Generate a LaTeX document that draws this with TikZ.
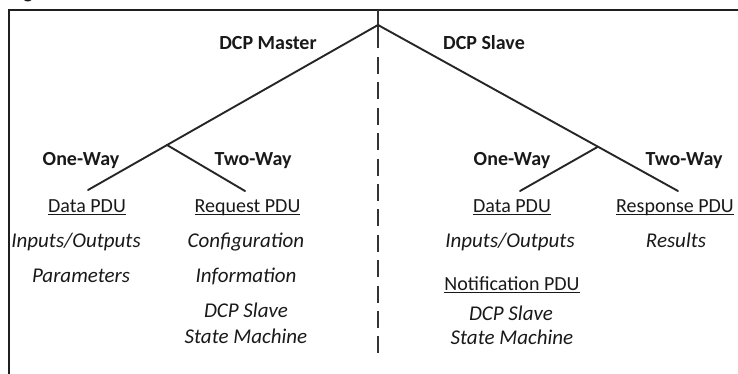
\documentclass[tikz,border=0pt]{standalone}
\usepackage{fontspec}
\setmainfont{Carlito}
\newcommand\dsize{\fontsize{20}{24}\selectfont}
\newcommand\isize{\fontsize{21}{25}\selectfont}
% underline set at a fixed depth, crossing descenders
\newcommand\pduline[1]{\setbox0\hbox{#1}\rlap{\rule[-3pt]{\wd0}{1.2pt}}\box0}
\tikzset{
  frame/.style={line width=1.8pt, draw=black!88},
  branch/.style={line width=1.9pt, draw=black!85, line cap=round},
  divider/.style={line width=2.2pt, draw=black!80},
  txt/.style={anchor=base, inner sep=0pt, text=black!90},
  head/.style={txt, font=\dsize\bfseries},
  pdu/.style={txt, font=\dsize},
  item/.style={txt, font=\isize\itshape},
}
\begin{document}
\begin{tikzpicture}[x=1pt,y=-1pt]
\useasboundingbox (0,0) rectangle (738,374);

% caption above the frame (only its lowest part falls inside the page)
\begin{scope}
  \clip (0,0) rectangle (738,374);
  \node[anchor=base west, inner sep=0pt, font=\dsize\bfseries, text=black!90] (cap) at (9,-1) {Fig};
\end{scope}

% frame: top and left edges
\coordinate (tr) at (738,10);
\coordinate (tl) at (9,10);
\coordinate (bl) at (9,376);
\draw[frame] (tr) -- (tl) -- (bl);

% central divider
\coordinate (top) at (378,10);
\coordinate (d1) at (378,48);
\coordinate (d2) at (378,57);
\coordinate (d3) at (378,353);
\draw[divider] (top) -- (d1);
\draw[divider, dash pattern=on 17pt off 8.4pt] (d2) -- (d3);

% tree
\coordinate (apex) at (378,25);
\coordinate (mj) at (167,145);
\coordinate (m1) at (88,190);
\coordinate (m2) at (245,191);
\coordinate (sj) at (598,146.7);
\coordinate (s1) at (520,191);
\coordinate (s2) at (678,191);
\draw[branch] (apex) -- (m1);
\draw[branch] (mj) -- (m2);
\draw[branch] (apex) -- (s2);
\draw[branch] (sj) -- (s1);

% headings
\node[head] (master) at (268,50) {DCP Master};
\node[head] (slave) at (484,50) {DCP Slave};
\node[head] (mone) at (81,165) {One-Way};
\node[head] (mtwo) at (253,165) {Two-Way};
\node[head] (sone) at (512,165) {One-Way};
\node[head] (stwo) at (684,165) {Two-Way};

% master side
\node[pdu] (mdata) at (87,212) {\pduline{Data PDU}};
\node[pdu] (mreq) at (247.5,212) {\pduline{Request PDU}};
\node[item] (mio) at (76,247) {Inputs/Outputs};
\node[item] (mpar) at (81,282) {Parameters};
\node[item] (mconf) at (246,247) {Configuration};
\node[item] (minfo) at (246,282) {Information};
\node[item] (msl) at (246,317) {DCP Slave};
\node[item] (msm) at (246,343) {State Machine};

% slave side
\node[pdu] (sdata) at (512,212) {\pduline{Data PDU}};
\node[pdu] (sresp) at (675,212) {\pduline{Response PDU}};
\node[item] (sio) at (510,247) {Inputs/Outputs};
\node[item] (sres) at (676,247) {Results};
\node[pdu] (snot) at (512,290) {\pduline{Notification PDU}};
\node[item] (ssl) at (511,320) {DCP Slave};
\node[item] (ssm) at (512,344) {State Machine};
\end{tikzpicture}
\end{document}
